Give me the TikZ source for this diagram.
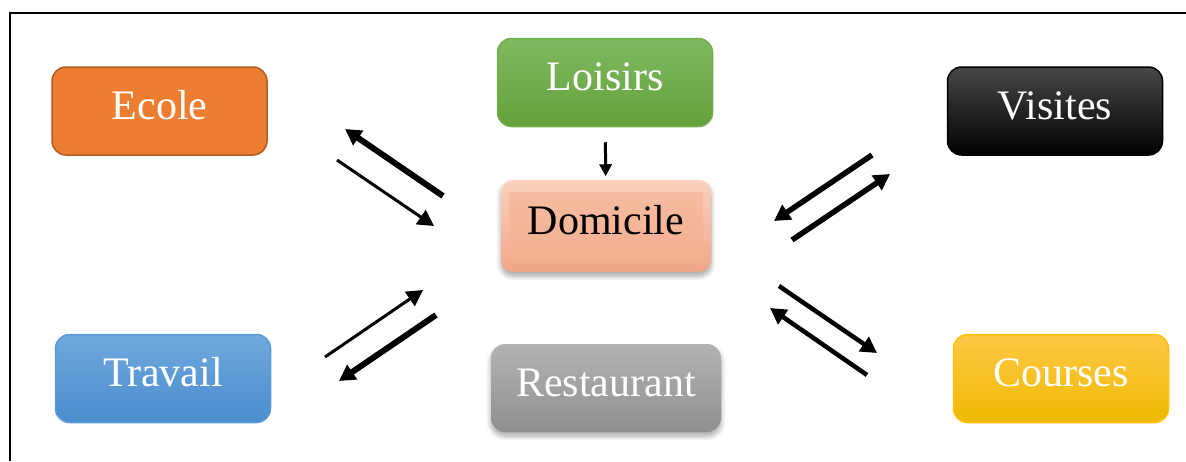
\documentclass[tikz,border=0pt]{standalone}
\usepackage{fontspec}
\setmainfont{Liberation Serif}
\usetikzlibrary{arrows.meta,shadows.blur,calc}

\definecolor{ecolefill}{HTML}{ED7D31}
\definecolor{ecoleline}{HTML}{B05C22}
\definecolor{loisirtop}{HTML}{80B961}
\definecolor{loisirbot}{HTML}{62A13A}
\definecolor{loisirline}{HTML}{72AE4A}
\definecolor{visittop}{HTML}{474747}
\definecolor{travtop}{HTML}{70A8DD}
\definecolor{travbot}{HTML}{4A8DCE}
\definecolor{travline}{HTML}{5B9BD5}
\definecolor{courtop}{HTML}{FFC947}
\definecolor{courbot}{HTML}{EEB900}
\definecolor{courline}{HTML}{FFC000}
\definecolor{resttop}{HTML}{B2B2B2}
\definecolor{restbot}{HTML}{909090}
\definecolor{domedgetop}{HTML}{FAD2BF}
\definecolor{domedgebot}{HTML}{F1A687}
\definecolor{domtop}{HTML}{F6BEA4}
\definecolor{dombot}{HTML}{F3AC8E}

\tikzset{
  box/.style={rounded corners=14pt, minimum width=215pt, minimum height=88pt,
    line width=1.5pt, text=white, inner sep=0pt,
    font=\fontsize{42}{50}\selectfont, text height=29.4pt, text depth=12.6pt},
  softshadow/.style={blur shadow={shadow xshift=0pt, shadow yshift=-4pt,
    shadow blur steps=8, shadow blur radius=5pt, shadow opacity=35}},
  flow/.style={-{Triangle[length=16pt,width=17pt]}, line width=#1},
  frameline/.style={line width=2.5pt, black}
}

\begin{document}
\begin{tikzpicture}[x=1pt,y=-1pt]
  \useasboundingbox (0,0) rectangle (1186,461);

  % outer frame (top and left edges)
  \coordinate (fbl) at (10,461);
  \coordinate (ftl) at (10,13);
  \coordinate (ftr) at (1186,13);
  \draw[frameline] (fbl) -- (ftl) -- (ftr);

  % destination boxes
  \node[box, draw=ecoleline, fill=ecolefill] (ecole) at (159.5,111) {Ecole};
  \node[box, draw=loisirline, top color=loisirtop, bottom color=loisirbot]
    (loisirs) at (605,82.5) {Loisirs};
  \node[box, draw=black, top color=visittop, middle color=black, bottom color=black]
    (visites) at (1055,111) {Visites};
  \node[box, draw=travline, top color=travtop, bottom color=travbot]
    (travail) at (163,378.5) {Travail};
  \node[box, draw=courline, top color=courtop, bottom color=courbot]
    (courses) at (1061,378.5) {Courses};
  \node[box, softshadow, minimum width=230pt, top color=resttop, bottom color=restbot]
    (restaurant) at (606,388) {Restaurant};

  % home: bevelled salmon button
  \node[box, softshadow, text=black, minimum width=210pt, minimum height=92pt,
    rounded corners=12pt, top color=domedgetop, bottom color=domedgebot,
    path picture={
      \shade[top color=domtop, bottom color=dombot, sharp corners]
        ($(path picture bounding box.north west)+(8,12)$) rectangle
        ($(path picture bounding box.south east)+(-8,-10)$);
    }] (domicile) at (606,226) {Domicile};

  % leisure feeds home
  \draw[-{Triangle[length=12pt,width=12pt]}, line width=3pt,
    shorten <=15pt, shorten >=3pt] (loisirs) -- (domicile);

  % school exchanges
  \coordinate (a1s) at (443,196); \coordinate (a1e) at (345,129);
  \coordinate (a2s) at (337,160); \coordinate (a2e) at (434,226);
  \draw[flow=6pt] (a1s) -- (a1e);
  \draw[flow=3pt] (a2s) -- (a2e);

  % visits exchanges
  \coordinate (a3s) at (872,155); \coordinate (a3e) at (774,221);
  \coordinate (a4s) at (792,240); \coordinate (a4e) at (890,174);
  \draw[flow=5.5pt] (a3s) -- (a3e);
  \draw[flow=5.5pt] (a4s) -- (a4e);

  % work exchanges
  \coordinate (a5s) at (325,357); \coordinate (a5e) at (423,290);
  \coordinate (a6s) at (436,315); \coordinate (a6e) at (339,381);
  \draw[flow=3pt] (a5s) -- (a5e);
  \draw[flow=6pt] (a6s) -- (a6e);

  % shopping exchanges
  \coordinate (a7s) at (779,286); \coordinate (a7e) at (877,353);
  \coordinate (a8s) at (867,375); \coordinate (a8e) at (770,308);
  \draw[flow=4.5pt] (a7s) -- (a7e);
  \draw[flow=4.5pt] (a8s) -- (a8e);
\end{tikzpicture}
\end{document}
